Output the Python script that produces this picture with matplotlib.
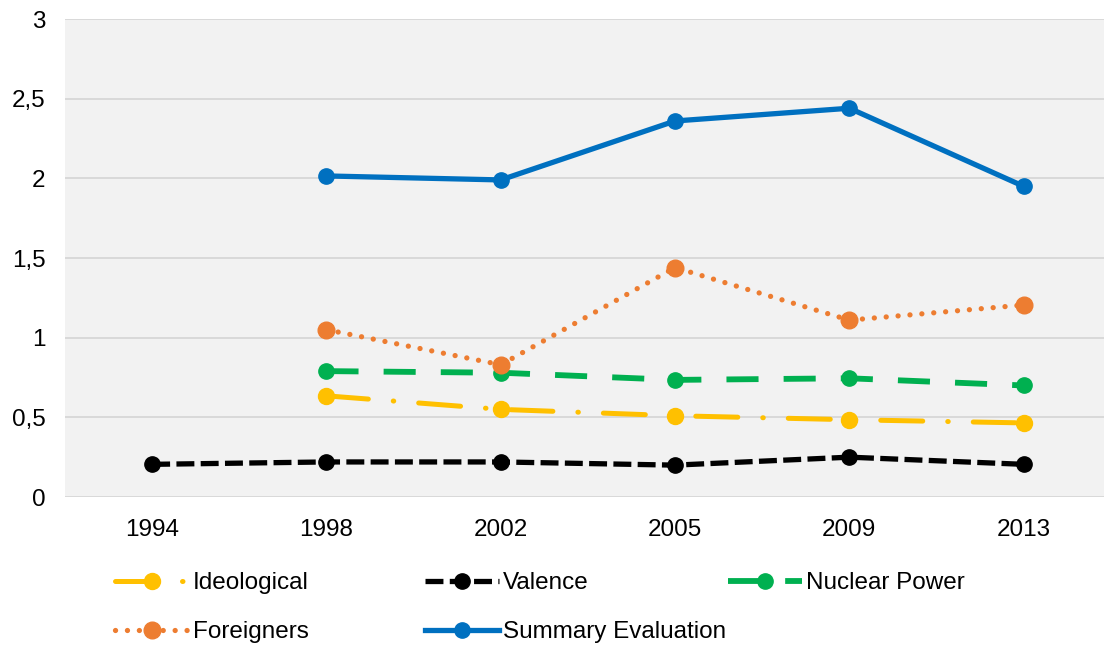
import numpy as np
import matplotlib.pyplot as plt
from matplotlib.ticker import FuncFormatter

years = ['1994', '1998', '2002', '2005', '2009', '2013']

ideological = [np.nan, 0.635, 0.55, 0.51, 0.485, 0.465]
valence = [0.205, 0.22, 0.22, 0.2, 0.25, 0.205]
nuclear = [np.nan, 0.79, 0.78, 0.735, 0.745, 0.70]
foreigners = [np.nan, 1.05, 0.83, 1.44, 1.11, 1.205]
summary = [np.nan, 2.015, 1.99, 2.36, 2.44, 1.95]

plt.rcParams['font.family'] = ['Liberation Sans', 'DejaVu Sans']
fs = 17.5

W, H = 1104, 650
fig = plt.figure(figsize=(W / 100, H / 100), dpi=100)
ax = fig.add_axes([65 / W, 1 - 497 / H, 1 - 65 / W, (497 - 19) / H])
ax.set_facecolor('#F2F2F2')

x = np.arange(len(years))

styles = [
    ('Ideological', ideological, dict(color='#FFC000', lw=3.6, dashes=(8.4, 5, 0.1, 5),
                                      dash_capstyle='round', marker='o', ms=11.5)),
    ('Valence', valence, dict(color='black', lw=3.8, dashes=(3.4, 1.2),
                              marker='o', ms=11)),
    ('Nuclear Power', nuclear, dict(color='#00B050', lw=4.2, dashes=(5.5, 4.3),
                                    marker='o', ms=11)),
    ('Foreigners', foreigners, dict(color='#ED7D31', lw=3.8, dashes=(0.01, 2.25),
                                    dash_capstyle='round', marker='o', ms=12)),
    ('Summary Evaluation', summary, dict(color='#0070C0', lw=3.8, ls='-',
                                         marker='o', ms=11)),
]

handles = {}
for name, vals, kw in styles:
    h, = ax.plot(x, vals, **kw)
    handles[name] = h

ax.set_xlim(-0.5, -0.5 + (W - 65) / 174.3)
ax.set_ylim(0, 3)
ax.set_yticks(np.arange(0, 3.01, 0.5))
ax.yaxis.set_major_formatter(FuncFormatter(lambda v, p: ('%g' % v).replace('.', ',')))
ax.set_xticks(x)
ax.set_xticklabels(years)
ax.grid(axis='y', color='#D9D9D9', lw=1.4)
ax.set_axisbelow(True)
for s in ax.spines.values():
    s.set_visible(False)
ax.tick_params(length=0, labelsize=fs, colors='black')
ax.tick_params(axis='y', pad=14)
ax.tick_params(axis='x', pad=16)

# legend entries placed like the Excel layout
pos = {
    'Ideological': (115, 583),
    'Valence': (425, 583),
    'Nuclear Power': (728, 583),
    'Foreigners': (115, 632),
    'Summary Evaluation': (425, 632),
}
for name, (px, py) in pos.items():
    fig.legend(handles=[handles[name]], labels=[name], loc='center left',
               bbox_to_anchor=(px / W, 1 - py / H), frameon=False, borderpad=0,
               borderaxespad=0, handlelength=3.05, handletextpad=0.15,
               fontsize=fs, numpoints=1)

fig.savefig('out.png', dpi=100)
